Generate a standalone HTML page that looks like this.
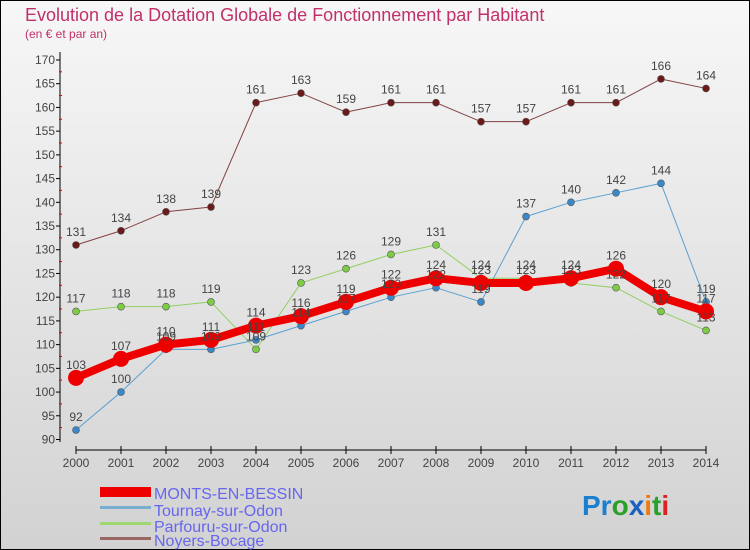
<!DOCTYPE html>
<html><head><meta charset="utf-8"><style>
body{margin:0;width:750px;height:550px;overflow:hidden;font-family:"Liberation Sans",sans-serif}
svg{display:block}
</style></head><body>
<svg id="chart" width="750" height="550" xmlns="http://www.w3.org/2000/svg">
<defs><linearGradient id="bg" x1="0" y1="0" x2="0" y2="1"><stop offset="0" stop-color="#f7f7f7"/><stop offset="1" stop-color="#d2d2d2"/></linearGradient></defs>
<rect x="0.5" y="0.5" width="749" height="549" fill="url(#bg)" stroke="#000"/>
<text x="25" y="21" font-size="18" fill="#c0306a">Evolution de la Dotation Globale de Fonctionnement par Habitant</text>
<text x="25" y="38" font-size="12" fill="#c0306a">(en € et par an)</text>
<g id="axes"></g><g id="series"></g><g id="labels"></g>
<g font-size="16" fill="#6666ee">
<rect x="100" y="487" width="51" height="10" fill="#ee0000"/><text x="154" y="499">MONTS-EN-BESSIN</text>
<rect x="100" y="506" width="51" height="3" fill="#7aaed0"/><text x="154" y="516">Tournay-sur-Odon</text>
<rect x="100" y="522" width="51" height="3" fill="#9ed870"/><text x="154" y="532">Parfouru-sur-Odon</text>
<rect x="100" y="537" width="51" height="3" fill="#996666"/><text x="154" y="546">Noyers-Bocage</text>
</g>
<g font-size="28" font-weight="bold"><text x="582" y="515"><tspan fill="#1a7fd0">Pr</tspan><tspan fill="#2aa02a">o</tspan><tspan fill="#1a60c0">x</tspan><tspan fill="#f07a10">i</tspan><tspan fill="#2aa02a">t</tspan><tspan fill="#e02020">i</tspan></text></g>
</svg>
<script>
const years=[2000,2001,2002,2003,2004,2005,2006,2007,2008,2009,2010,2011,2012,2013,2014];
const monts=[103,107,110,111,114,116,119,122,124,123,123,124,126,120,117];
const tournay=[92,100,109,109,111,114,117,120,122,119,137,140,142,144,119];
const parfouru=[117,118,118,119,109,123,126,129,131,124,124,123,122,117,113];
const noyers=[131,134,138,139,161,163,159,161,161,157,157,161,161,166,164];
const yTicks=[90,95,100,105,110,115,120,125,130,135,140,145,150,155,160,165,170];
const NS="http://www.w3.org/2000/svg";
const xs=i=>76+i*45;
const ys=v=>439.5-(v-90)*4.744;
function mk(t,a,p){const e=document.createElementNS(NS,t);for(const k in a)e.setAttribute(k,a[k]);p.appendChild(e);return e;}
const ax=document.getElementById('axes'),se=document.getElementById('series'),lb=document.getElementById('labels');
const yl=mk('line',{x1:60,y1:52,x2:60,y2:442,stroke:'#000'},ax);


yTicks.forEach(v=>{const y=ys(v);
mk('line',{x1:56,y1:y,x2:60,y2:y,stroke:'#000'},ax);
if(v<170)mk('line',{x1:59,y1:y-11.9,x2:62,y2:y-11.9,stroke:'#e00000'},ax);
const t=mk('text',{x:55,y:y+4,'font-size':12,'text-anchor':'end',fill:'#444'},ax);t.textContent=v;

});
const xl=mk('line',{x1:76,y1:450,x2:706,y2:450,stroke:'#000'},ax);


years.forEach((yr,i)=>{const x=xs(i);
mk('line',{x1:x,y1:446,x2:x,y2:454,stroke:'#000'},ax);
const t=mk('text',{x:x,y:467,'font-size':12,'text-anchor':'middle',fill:'#444'},ax);t.textContent=yr;

});
function series(name,d,col,w,r,dot){
const p=mk('polyline',{points:d.map((v,i)=>xs(i)+','+ys(v)).join(' '),fill:'none',stroke:col,'stroke-width':w,'stroke-linejoin':'round'},se);


d.forEach((v,i)=>{const c=mk('circle',{cx:xs(i),cy:ys(v),r:r,fill:dot,stroke:'#555','stroke-width':r>5?0:0.6},se);


const t=mk('text',{x:xs(i),y:ys(v)-9,'font-size':12,'text-anchor':'middle',fill:'#444'},lb);t.textContent=v;

});}
series('noyers',noyers,'#804040',1,3.5,'#6a1a1a');
series('parfouru',parfouru,'#90d060',1,3.5,'#7ccc44');
series('tournay',tournay,'#5aa0d0',1,3.5,'#3a88c8');
series('monts',monts,'#ee0000',8,8,'#ee0000');
</script>
</body></html>
